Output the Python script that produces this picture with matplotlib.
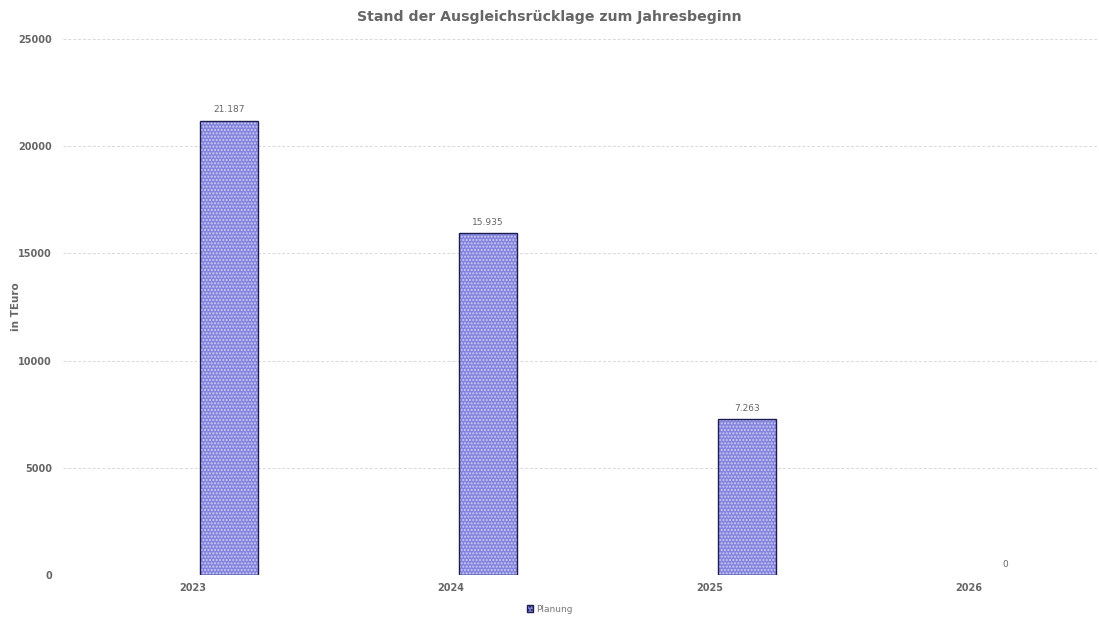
import matplotlib.pyplot as plt
from matplotlib.patches import Patch

# data
years = ['2023', '2024', '2025', '2026']
planung = [21187, 15935, 7263, 0]
value_labels = ['21.187', '15.935', '7.263', '0']

fig = plt.figure(figsize=(10.99, 6.19), dpi=100)
ax = fig.add_axes([63 / 1099, 44 / 619, 1035 / 1099, 536 / 619])

x = list(range(len(years)))
offset = 0.143
bars = ax.bar([i + offset for i in x], planung, width=0.224,
              color='#8484de', edgecolor='#1c1c50', linewidth=1.0,
              hatch='.....', zorder=3)
for b, v in zip(bars, planung):
    b._hatch_color = (1, 1, 1, 0.55)
    if v == 0:
        b.set_linewidth(0)

# value labels
for i, v in enumerate(planung):
    ax.text(i + offset, v + 300, value_labels[i], ha='center', va='bottom',
            fontsize=6.5, color='#666666')

ax.set_xlim(-0.5, 3.5)
ax.set_ylim(0, 25000)
ax.set_xticks(x)
ax.set_xticklabels(years)
ax.set_yticks([0, 5000, 10000, 15000, 20000, 25000])
ax.tick_params(axis='both', length=0, labelsize=7, labelcolor='#666666')
for lab in ax.get_xticklabels() + ax.get_yticklabels():
    lab.set_fontweight('bold')
ax.tick_params(axis='y', pad=8)
ax.tick_params(axis='x', pad=6)

ax.grid(axis='y', color='#d9d9d9', linestyle=(0, (3, 2)), linewidth=0.7, zorder=0)
for s in ax.spines.values():
    s.set_visible(False)

ax.set_ylabel('in TEuro', fontsize=7.5, fontweight='bold', color='#666666')
ax.yaxis.set_label_coords(-0.041, 0.5)
fig.text(0.5, 0.973, 'Stand der Ausgleichsrücklage zum Jahresbeginn', ha='center', va='center',
         fontsize=10.2, fontweight='bold', color='#666666')

handle = Patch(facecolor='#8484de', edgecolor='#1c1c50', hatch='.....')
fig.legend([handle], ['Planung'], loc='center', bbox_to_anchor=(0.5, 0.016),
           frameon=False, fontsize=6.5, labelcolor='#777777',
           handlelength=0.7, handleheight=0.9, handletextpad=0.3)

fig.savefig('out.png', dpi=100)
